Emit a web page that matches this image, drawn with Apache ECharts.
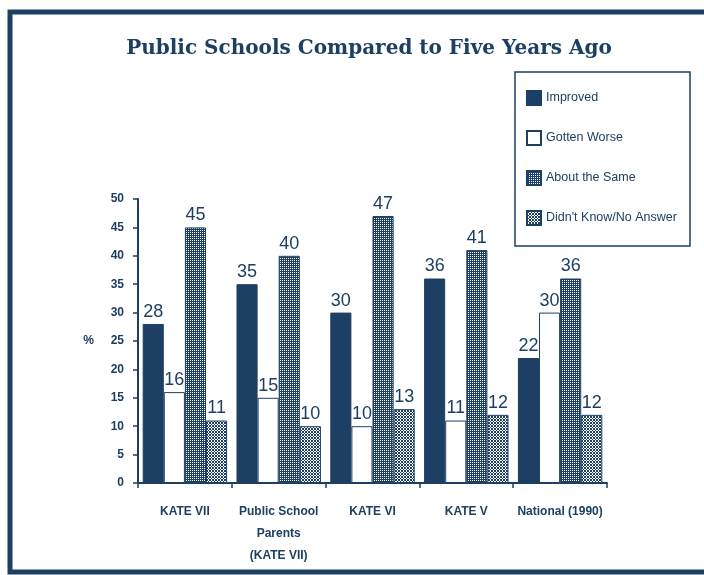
<!DOCTYPE html>
<html>
<head>
<meta charset="utf-8">
<script src="https://cdn.jsdelivr.net/npm/echarts@6/dist/echarts.min.js"></script>
<style>
  html, body { margin: 0; padding: 0; background: #fff; }
  #main { width: 704px; height: 575px; }
</style>
</head>
<body>
<div id="main"></div>
<script>
// values
const categories = ['KATE VII', 'Public School\nParents\n(KATE VII)', 'KATE VI', 'KATE V', 'National (1990)'];
const seriesNames = ['Improved', 'Gotten Worse', 'About the Same', "Didn't Know/No Answer"];
const improved = [28, 35, 30, 36, 22];
const gottenWorse = [16, 15, 10, 11, 30];
const aboutSame = [45, 40, 47, 41, 36];
const didntKnow = [11, 10, 13, 12, 12];

const navy = '#1d3f63';

// small tiled canvas used as a fill texture
function pattern(size, bg, fg, cells) {
    const c = document.createElement('canvas');
    c.width = size; c.height = size;
    const ctx = c.getContext('2d');
    ctx.fillStyle = bg;
    ctx.fillRect(0, 0, size, size);
    ctx.fillStyle = fg;
    cells.forEach(([x, y]) => ctx.fillRect(x, y, 1, 1));
    return { image: c, repeat: 'repeat' };
}

const darkDots = pattern(2, navy, '#ffffff', [[0, 0]]);
const lightDots = pattern(3, '#ffffff', navy, [[0, 0], [1, 1], [2, 0], [0, 2], [2, 2]]);

const fills = [navy, '#ffffff', darkDots, lightDots];
const values = [improved, gottenWorse, aboutSame, didntKnow];

document.addEventListener('DOMContentLoaded', function() {
    const chart = echarts.init(document.getElementById('main'));
    const option = {
        backgroundColor: '#fff',
        animation: false,
        title: {
            text: 'Public Schools Compared to Five Years Ago',
            left: 364,
            textAlign: 'center',
            top: 34,
            textStyle: {
                fontFamily: 'DejaVu Serif',
                fontWeight: 'bold',
                fontSize: 20,
                color: navy
            }
        },
        legend: {
            orient: 'vertical',
            left: 518,
            top: 82,
            padding: [8, 8, 8, 8],
            itemGap: 24,
            itemWidth: 14,
            itemHeight: 14,
            textStyle: {
                fontFamily: 'Liberation Sans',
                fontSize: 12.5,
                color: navy
            },
            data: seriesNames.map(n => ({ name: n, icon: 'rect' }))
        },
        graphic: [{
            type: 'rect',
            shape: { x: 10, y: 12, width: 740, height: 560 },
            style: { fill: null, stroke: navy, lineWidth: 5 },
            silent: true
        }, {
            type: 'rect',
            shape: { x: 515, y: 72, width: 175, height: 174 },
            style: { fill: null, stroke: navy, lineWidth: 1.5 },
            silent: true
        }],
        grid: { left: 138, right: 97, top: 199, bottom: 92 },
        xAxis: {
            type: 'category',
            data: categories,
            axisLine: { lineStyle: { color: navy, width: 2 } },
            axisTick: { show: true, interval: 0, length: 5, lineStyle: { color: navy, width: 1.5 } },
            axisLabel: {
                interval: 0,
                margin: 18,
                lineHeight: 22,
                fontFamily: 'Liberation Sans',
                fontSize: 12,
                fontWeight: 'bold',
                color: navy
            }
        },
        yAxis: {
            type: 'value',
            min: 0,
            max: 50,
            interval: 5,
            name: '%',
            nameLocation: 'middle',
            nameRotate: 0,
            nameGap: 44,
            nameTextStyle: { fontFamily: 'Liberation Sans', fontSize: 12, fontWeight: 'bold', color: navy },
            splitLine: { show: false },
            axisLine: { show: true, lineStyle: { color: navy, width: 2 } },
            axisTick: { show: true, length: 5, lineStyle: { color: navy, width: 1.5 } },
            axisLabel: {
                margin: 14,
                fontFamily: 'Liberation Sans',
                fontSize: 12,
                fontWeight: 'bold',
                color: navy
            }
        },
        series: seriesNames.map((name, i) => ({
            name: name,
            type: 'bar',
            data: values[i],
            barGap: '0%',
            barCategoryGap: '10%',
            itemStyle: { color: fills[i], borderColor: navy, borderWidth: 1 },
            label: {
                show: true,
                position: 'top',
                distance: 3,
                fontFamily: 'Liberation Sans',
                fontSize: 18,
                color: navy
            }
        }))
    };
    chart.setOption(option);
});
</script>
</body>
</html>
